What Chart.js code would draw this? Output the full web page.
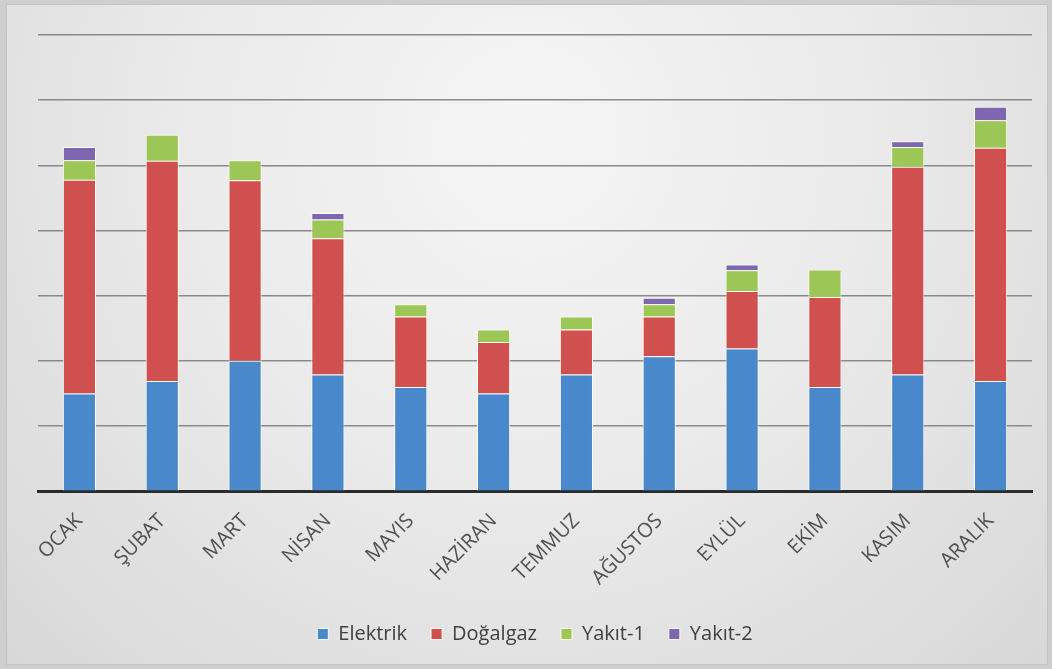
<!DOCTYPE html>
<html>
<head>
<meta charset="utf-8">
<script src="https://cdn.jsdelivr.net/npm/chart.js@4.4.0/dist/chart.umd.min.js"></script>
<style>
  html, body { margin: 0; padding: 0; background: #cfcfcf; }
  #wrap {
    position: absolute; left: 6px; top: 4px; width: 1040px; height: 659px;
    background: radial-gradient(ellipse at 50% 20%, #f5f5f5 0%, #ebebeb 45%, #d8d8d8 100%);
    border: 1px solid #c4c4c4;
  }
  #chart { position: absolute; left: -6px; top: -4px; }
</style>
</head>
<body>
<div id="wrap"><canvas id="chart" width="1052" height="669"></canvas></div>
<script>
// months (Turkish)
const months = ['OCAK','ŞUBAT','MART','NİSAN','MAYIS','HAZİRAN','TEMMUZ','AĞUSTOS','EYLÜL','EKİM','KASIM','ARALIK'];

// values (grid unit = 1)
const elektrik = [1.50, 1.69, 2.00, 1.79, 1.60, 1.50, 1.79, 2.07, 2.19, 1.60, 1.79, 1.69];
const dogalgaz = [3.28, 3.38, 2.77, 2.09, 1.08, 0.79, 0.69, 0.61, 0.88, 1.38, 3.19, 3.58];
const yakit1   = [0.30, 0.40, 0.31, 0.29, 0.19, 0.19, 0.20, 0.19, 0.32, 0.42, 0.30, 0.42];
const yakit2   = [0.20, 0.00, 0.00, 0.10, 0.00, 0.00, 0.00, 0.10, 0.09, 0.00, 0.09, 0.21];

function ds(label, data, color){
  return {
    label: label, data: data, backgroundColor: color,
    borderColor: 'rgba(255,255,240,0.9)', borderWidth: 1,
    categoryPercentage: 1.0, barPercentage: 0.4
  };
}

new Chart(document.getElementById('chart'), {
  type: 'bar',
  data: {
    labels: months,
    datasets: [
      ds('Elektrik', elektrik, '#4a88cc'),
      ds('Doğalgaz', dogalgaz, '#d0504f'),
      ds('Yakıt-1', yakit1, '#9cc655'),
      ds('Yakıt-2', yakit2, '#7f66b0')
    ]
  },
  options: {
    responsive: false,
    animation: false,
    layout: { padding: { left: 37, right: 21, top: 34, bottom: 16 } },
    scales: {
      x: {
        stacked: true,
        grid: { display: false },
        border: { display: true, color: '#2b2b2b', width: 3 },
        ticks: {
          minRotation: 45, maxRotation: 45, padding: 10,
          color: '#505050', font: { family: 'Open Sans', size: 20 }
        }
      },
      y: {
        stacked: true, min: 0, max: 7,
        ticks: { display: false, stepSize: 1 },
        border: { display: false },
        grid: { color: '#8a8a8a', lineWidth: 1.5, drawTicks: false }
      }
    },
    plugins: {
      legend: {
        position: 'bottom',
        labels: {
          boxWidth: 11, boxHeight: 11, padding: 24,
          color: '#404040', font: { family: 'Open Sans', size: 20 }
        }
      },
      tooltip: { enabled: false }
    }
  }
});
</script>
</body>
</html>
